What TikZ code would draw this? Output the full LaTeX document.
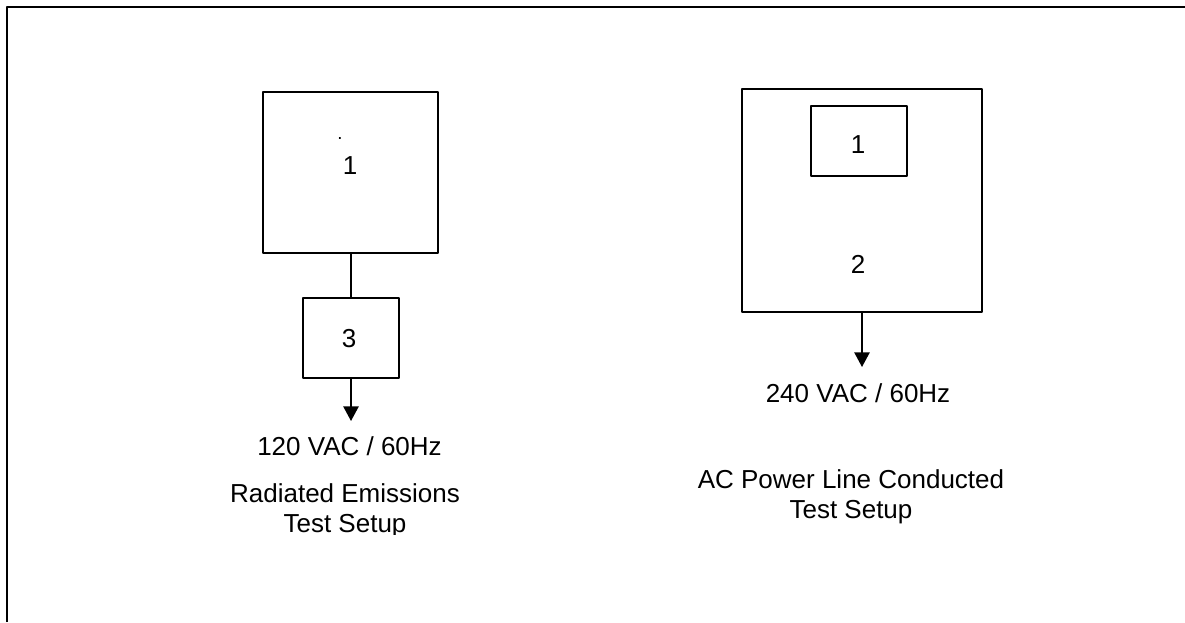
\documentclass[tikz,border=0pt]{standalone}
\usepackage{fontspec}
\setmainfont{Liberation Sans}
\usetikzlibrary{arrows.meta}
\newcommand{\digitsize}{\fontsize{19.5pt}{23pt}\selectfont}
\newcommand{\supplysize}{\fontsize{19.5pt}{23pt}\selectfont}
\newcommand{\capsize}{\fontsize{19.5pt}{22.5pt}\selectfont}
\begin{document}
\begin{tikzpicture}[x=0.75pt, y=-0.75pt, line join=round, >={Triangle[width=11.5pt,length=11pt]}]
		\tikzset{
		unit/.style={draw, line width=1.8pt, inner sep=0pt},
		wire/.style={line width=1.2pt},
		num/.style={font=\digitsize, inner sep=0pt},
		supply/.style={font=\supplysize, anchor=base, inner sep=0pt},
		caption/.style={font=\capsize, align=center, anchor=base, inner sep=0pt}
		}
		\useasboundingbox (0,0) rectangle (1185,622);
		\draw[line width=2pt] (7,622) -- (7,7) -- (1185,7);
		\node[unit, minimum width=131.25pt, minimum height=120.75pt] (reEut) at (350.5,172.5) {};
		\node[num] (reEutNum) at (350,165.5) {1};
		\node[font=\fontsize{14pt}{14pt}\selectfont, anchor=base, inner sep=0pt] (reDot) at (340,139) {.};
		\node[unit, minimum width=72pt, minimum height=60pt] (reLisn) at (351,338) {};
		\node[num] (reLisnNum) at (349,338.5) {3};
		\coordinate (reMains) at (351,421);
		\draw[wire] (reEut.south -| reLisn) -- (reLisn.north);
		\draw[wire,->] (reLisn.south) -- (reMains);
		\node[supply] (reSupply) at (349.5,455) {120 VAC / 60Hz};
		\begin{scope}
		\clip (150,470) rectangle (550,534);
		\node[caption] (reTitle) at (345,532) {Radiated Emissions\\Test Setup};
		\end{scope}
		\node[unit, minimum width=180pt, minimum height=167.25pt] (acHost) at (862,200.5) {};
		\node[unit, minimum width=72pt, minimum height=52.5pt] (acEut) at (859,141) {};
		\node[num] (acEutNum) at (858,144.5) {1};
		\node[num] (acHostNum) at (858,264) {2};
		\coordinate (acMains) at (862,367);
		\draw[wire,->] (acHost.south) -- (acMains);
		\node[supply] (acSupply) at (858,402) {240 VAC / 60Hz};
		\node[caption] (acTitle) at (851,518) {AC Power Line Conducted\\Test Setup};
	\end{tikzpicture}
\end{document}
